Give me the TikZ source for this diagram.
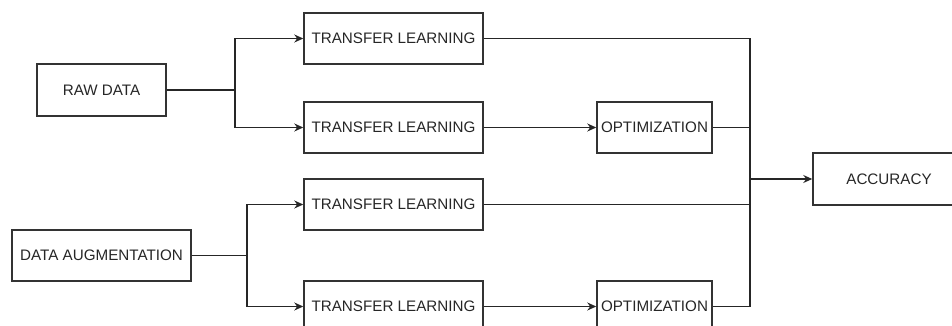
\documentclass[tikz,border=0pt]{standalone}
\usepackage{fontspec}
\setmainfont{Liberation Sans}
\usetikzlibrary{arrows.meta}

\tikzset{
    block/.style={draw=black!80, line width=1.5pt, minimum height=51pt, inner sep=0pt,
        text=black!85, font=\fontsize{15.2}{18}\selectfont},
    flow/.style={draw=black!85, line width=1.4pt},
    flowarrow/.style={flow, -{Stealth[length=9pt,width=8pt]}}
}

\begin{document}
\begin{tikzpicture}[x=1pt,y=-1pt]
        \clip (0,0) rectangle (952,326);

        % inputs
        \node[block, minimum width=129pt, minimum height=52pt] (raw) at (101.5, 90) {RAW DATA};
        \node[block, minimum width=179pt] (aug) at (101.5, 255.5) {DATA AUGMENTATION};

        % models
        \node[block, minimum width=179pt] (tlone) at (393.5, 38.5) {TRANSFER LEARNING};
        \node[block, minimum width=179pt] (tltwo) at (393.5, 127.5) {TRANSFER LEARNING};
        \node[block, minimum width=179pt] (tlthree) at (393.5, 204.5) {TRANSFER LEARNING};
        \node[block, minimum width=179pt] (tlfour) at (393.5, 306.5) {TRANSFER LEARNING};
        \node[block, minimum width=115pt] (optone) at (654.5, 127.5) {OPTIMIZATION};
        \node[block, minimum width=115pt] (opttwo) at (654.5, 306.5) {OPTIMIZATION};

        % output
        \node[block, minimum width=152pt, minimum height=52pt] (acc) at (889, 179) {ACCURACY};

        \coordinate (rawsplit) at (235, 90);
        \coordinate (augsplit) at (247, 255.5);
        \coordinate (join) at (750, 179);

        \draw[flow] (raw) -- (rawsplit);
        \draw[flowarrow] (rawsplit) |- (tlone.west);
        \draw[flowarrow] (rawsplit) |- (tltwo.west);
        \draw[flow] (aug) -- (augsplit);
        \draw[flowarrow] (augsplit) |- (tlthree.west);
        \draw[flowarrow] (augsplit) |- (tlfour.west);

        \draw[flowarrow] (tltwo) -- (optone);
        \draw[flowarrow] (tlfour) -- (opttwo);

        \draw[flow] (tlone.east) -| (join);
        \draw[flow] (optone.east) -| (join);
        \draw[flow] (tlthree.east) -| (join);
        \draw[flow] (opttwo.east) -| (join);
        \draw[flowarrow] (join) -- (acc.west);
    \end{tikzpicture}
\end{document}
